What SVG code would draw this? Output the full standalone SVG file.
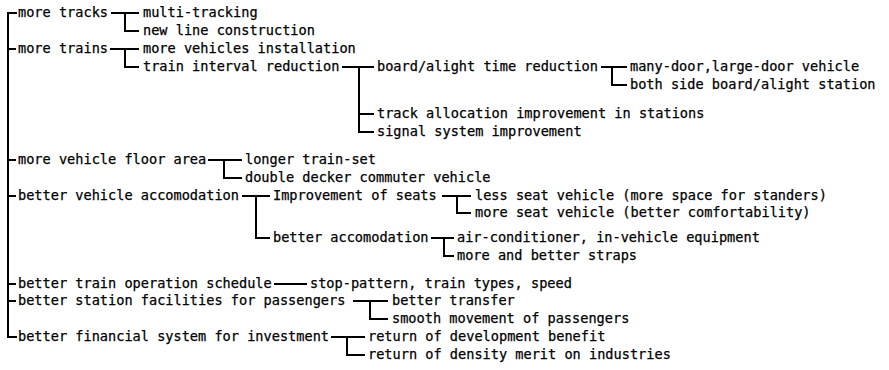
<svg xmlns="http://www.w3.org/2000/svg" width="889" height="370" viewBox="0 0 889 370">
<style>
text{font-family:"DejaVu Sans Mono","Liberation Mono",monospace;font-size:13.6px;fill:#000;stroke:#000;stroke-width:0.25}
.c path{fill:none;stroke:#000;stroke-width:2}
</style>
<rect width="889" height="370" fill="#fff"/>
<g class="c" id="connectors">
<path d="M17,13H8V337H17M8,49H16M8,160H16M8,196H16M8,284H16M8,301H16"/>
<path d="M111,13H139M125,13V31H139"/>
<path d="M110,49H139M125,49V67H139"/>
<path d="M342,67H374M359,67V132H374M359,114H374"/>
<path d="M601,67H627M612,67V85H627"/>
<path d="M208,160H242M224,160V178H242"/>
<path d="M242,196H270M256,196V238H270"/>
<path d="M442,196H471M457,196V213H471"/>
<path d="M431,238H454M444,238V256H454"/>
<path d="M274,284H307"/>
<path d="M353,301H388M370,301V319H388"/>
<path d="M331,337H365M347,337V355H365"/>
</g>
<g id="n-tracks"><text x="18" y="17">more tracks</text></g>
<g id="n-multi"><text x="143" y="17">multi-tracking</text></g>
<g id="n-newline"><text x="143" y="35">new line construction</text></g>
<g id="n-trains"><text x="18" y="53">more trains</text></g>
<g id="n-vehicles"><text x="143" y="53">more vehicles installation</text></g>
<g id="n-interval"><text x="143" y="71">train interval reduction</text></g>
<g id="n-board"><text x="377" y="71">board/alight time reduction</text></g>
<g id="n-manydoor"><text x="630" y="71">many-door,large-door vehicle</text></g>
<g id="n-bothside"><text x="630" y="89">both side board/alight station</text></g>
<g id="n-trackalloc"><text x="377" y="118">track allocation improvement in stations</text></g>
<g id="n-signal"><text x="377" y="136">signal system improvement</text></g>
<g id="n-floor"><text x="18" y="164">more vehicle floor area</text></g>
<g id="n-longer"><text x="245" y="164">longer train-set</text></g>
<g id="n-double"><text x="245" y="182">double decker commuter vehicle</text></g>
<g id="n-accom"><text x="18" y="200">better vehicle accomodation</text></g>
<g id="n-seats"><text x="273" y="200">Improvement of seats</text></g>
<g id="n-lessseat"><text x="475" y="200">less seat vehicle (more space for standers)</text></g>
<g id="n-moreseat"><text x="475" y="217">more seat vehicle (better comfortability)</text></g>
<g id="n-betteraccom"><text x="273" y="242">better accomodation</text></g>
<g id="n-aircon"><text x="457" y="242">air-conditioner, in-vehicle equipment</text></g>
<g id="n-straps"><text x="457" y="260">more and better straps</text></g>
<g id="n-schedule"><text x="18" y="288">better train operation schedule</text></g>
<g id="n-stop"><text x="310" y="288">stop-pattern, train types, speed</text></g>
<g id="n-station"><text x="18" y="305">better station facilities for passengers</text></g>
<g id="n-transfer"><text x="392" y="305">better transfer</text></g>
<g id="n-smooth"><text x="392" y="323">smooth movement of passengers</text></g>
<g id="n-financial"><text x="18" y="341">better financial system for investment</text></g>
<g id="n-devbenefit"><text x="368" y="341">return of development benefit</text></g>
<g id="n-density"><text x="368" y="359">return of density merit on industries</text></g>
</svg>
